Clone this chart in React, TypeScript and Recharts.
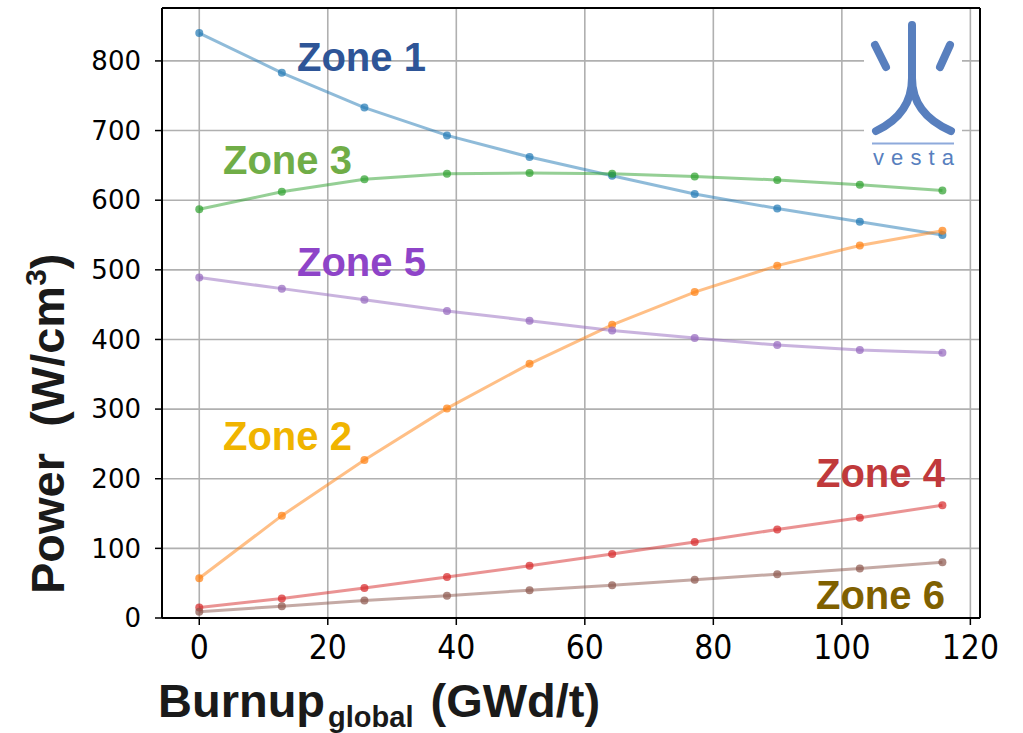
import React from "react";
import {
  LineChart, Line, XAxis, YAxis, CartesianGrid, ReferenceLine,
} from "recharts";

// burnup steps (GWd/t)
const burnup = [0, 12.85, 25.7, 38.55, 51.4, 64.25, 77.1, 89.95, 102.8, 115.65];

// zone power (W/cm3)
const zone1 = [840, 783, 733, 693, 662, 635, 609, 588, 569, 550];
const zone2 = [57, 147, 227, 301, 365, 421, 468, 506, 535, 556];
const zone3 = [587, 612, 630, 638, 639, 638, 634, 629, 622, 614];
const zone4 = [15, 28, 43, 59, 75, 92, 109, 127, 144, 162];
const zone5 = [489, 473, 457, 441, 427, 413, 402, 392, 385, 381];
const zone6 = [9, 17, 25, 32, 40, 47, 55, 63, 71, 80];

const xTicks = [0, 20, 40, 60, 80, 100, 120];
const yTicks = [0, 100, 200, 300, 400, 500, 600, 700, 800];

const series = [
  { key: "z1", values: zone1, color: "#1f77b4" },
  { key: "z2", values: zone2, color: "#ff7f0e" },
  { key: "z3", values: zone3, color: "#2ca02c" },
  { key: "z4", values: zone4, color: "#d62728" },
  { key: "z5", values: zone5, color: "#9467bd" },
  { key: "z6", values: zone6, color: "#8c564b" },
];

const labels = [
  { text: "Zone 1", x: 297, y: 71, color: "#2e5597" },
  { text: "Zone 3", x: 223, y: 174, color: "#70ad47" },
  { text: "Zone 5", x: 297, y: 276, color: "#8e44c8" },
  { text: "Zone 2", x: 223, y: 450, color: "#f0b400" },
  { text: "Zone 4", x: 816, y: 487, color: "#c0393b" },
  { text: "Zone 6", x: 816, y: 609, color: "#7f6000" },
];

const rows = burnup.map((x, i) => {
  const r: Record<string, number> = { x };
  series.forEach((s) => (r[s.key] = s.values[i]));
  return r;
});

const logoBlue = "#587fbe";
const titleFont = "'Liberation Sans', Arial, sans-serif";

// x tick labels in the source are a bit stretched vertically
const XTick = (props: any) => {
  const { x, y, payload } = props;
  return (
    <text
      transform={`translate(${x}, ${y + 4}) scale(1, 1.12)`}
      textAnchor="middle"
      dy="0.71em"
      fontSize={30}
      fill="#000"
      fontFamily="'DejaVu Sans'"
    >
      {payload.value}
    </text>
  );
};

export default function App() {
  return (
    <div style={{ position: "absolute", left: 0, top: 0, width: 1023, height: 733, background: "#fff" }}>
      <LineChart
        width={1023}
        height={733}
        data={rows}
        margin={{ top: 8, right: 43, bottom: 55, left: 62 }}
      >
        <CartesianGrid stroke="#b0b0b0" strokeWidth={1.6} />
        <XAxis
          type="number"
          dataKey="x"
          domain={[-5.8, 121.5]}
          ticks={xTicks}
          allowDataOverflow
          height={60}
          tickSize={7}
          tickMargin={6}
          axisLine={{ stroke: "#000", strokeWidth: 2 }}
          tickLine={{ stroke: "#000", strokeWidth: 1.5 }}
          tick={<XTick />}
        />
        <YAxis
          type="number"
          domain={[0, 876]}
          ticks={yTicks}
          allowDataOverflow
          width={100}
          tickSize={7}
          tickMargin={14}
          axisLine={{ stroke: "#000", strokeWidth: 2 }}
          tickLine={{ stroke: "#000", strokeWidth: 1.5 }}
          tick={{ fontSize: 26, fill: "#000", fontFamily: "'DejaVu Sans'" }}
        />
        <ReferenceLine y={876} stroke="#000" strokeWidth={2} />
        <ReferenceLine x={121.5} stroke="#000" strokeWidth={2} />
        {series.map((s) => (
          <Line
            key={s.key}
            type="linear"
            dataKey={s.key}
            stroke={s.color}
            strokeOpacity={0.5}
            strokeWidth={3}
            dot={{ r: 4, fill: s.color, fillOpacity: 0.7, stroke: "none" }}
            activeDot={false}
            isAnimationActive={false}
          />
        ))}
      </LineChart>
      <svg
        width={1023}
        height={733}
        style={{ position: "absolute", left: 0, top: 0, pointerEvents: "none" }}
      >
        {labels.map((l) => (
          <text
            key={l.text}
            x={l.x}
            y={l.y}
            fill={l.color}
            fontSize={40}
            fontWeight="bold"
            fontFamily={titleFont}
          >
            {l.text}
          </text>
        ))}
        <text
          x={158}
          y={717}
          fontSize={47}
          fontWeight="bold"
          fill="#1a1a1a"
          fontFamily={titleFont}
          style={{ whiteSpace: "pre" }}
        >
          Burnup
          <tspan fontSize={29} dx={3} dy={10}>global</tspan>
          <tspan dx={4} dy={-10}>{" (GWd/t)"}</tspan>
        </text>
        <text
          transform="translate(64, 594) rotate(-90)"
          x={0}
          y={0}
          fontSize={47}
          fontWeight="bold"
          fill="#1a1a1a"
          fontFamily={titleFont}
          style={{ whiteSpace: "pre" }}
        >
          {"Power  (W/cm"}
          <tspan fontSize={30} dy={-18}>3</tspan>
          <tspan dy={18}>)</tspan>
        </text>
        <g>
          <rect x={864} y={15} width={98} height={157} fill="#fff" />
          <g stroke={logoBlue} strokeWidth={8} strokeLinecap="round" fill="none">
            <path d="M912,25 L912,78 Q912,114 876,131" />
            <path d="M912,78 Q912,114 951,131" />
            <path d="M875,45 L886,67" />
            <path d="M950,45 L940,67" />
          </g>
          <line x1={872} y1={143.5} x2={954} y2={143.5} stroke="#8eaadb" strokeWidth={2} />
          <text
            x={873}
            y={165}
            fontSize={22}
            fill={logoBlue}
            textLength={81}
            lengthAdjust="spacing"
            fontFamily={titleFont}
          >
            vesta
          </text>
        </g>
      </svg>
    </div>
  );
}
